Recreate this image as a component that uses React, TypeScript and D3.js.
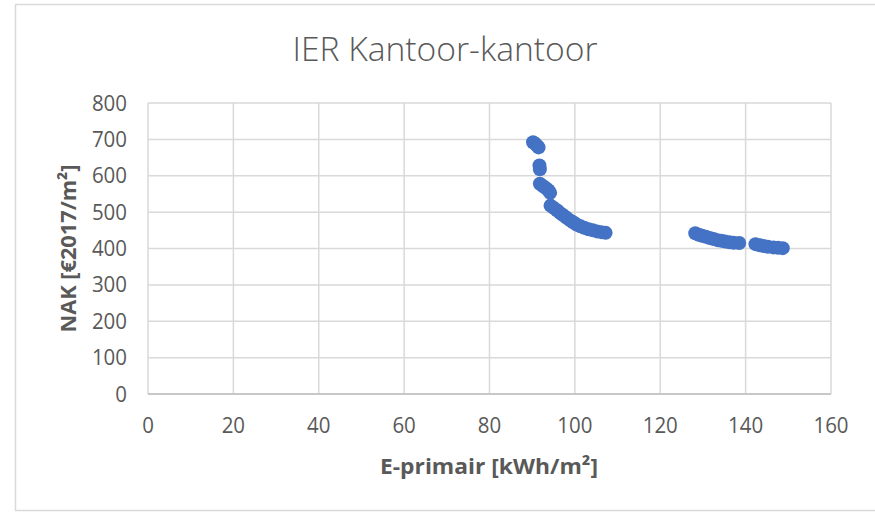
import React from "react";
import * as d3 from "d3";

const ePrimair: number[] = [
  90.2, 90.7, 91.2, 91.5,
  91.7, 91.8,
  91.8, 92.5, 93.2, 93.8, 94.2,
  94.3, 95.0, 95.8, 96.5, 97.2, 98.0, 98.8, 99.6, 100.4, 101.3, 102.2, 103.2, 104.2, 105.2, 106.2, 107.2,
  128.2, 129.0, 129.8, 130.7, 131.6, 132.5, 133.4, 134.3, 135.2, 136.2, 137.2, 138.5,
  142.3, 143.3, 144.2, 145.2, 146.5, 147.6, 148.7,
];
const nak: number[] = [
  692, 688, 682, 678,
  628, 618,
  578, 572, 566, 560, 553,
  518, 512, 505, 498, 492, 485, 478, 472, 466, 461, 457, 453, 450, 447, 445, 443,
  442, 438, 435, 432, 429, 426, 423, 421, 419, 417, 416, 415,
  412, 409, 407, 405, 403, 402, 401,
];
const xTicks: number[] = [0, 20, 40, 60, 80, 100, 120, 140, 160];
const yTicks: number[] = [0, 100, 200, 300, 400, 500, 600, 700, 800];

const title = "IER Kantoor-kantoor";
const xTitle = "E-primair [kWh/m²]";
const yTitle = "NAK [€2017/m²]";

export default function App() {
  const W = 875, H = 512;
  const left = 148, right = 831, top = 103, bottom = 394;
  const x = d3.scaleLinear().domain([0, 160]).range([left, right]);
  const y = d3.scaleLinear().domain([0, 800]).range([bottom, top]);
  const grid = "#d9d9d9";
  const txt = "#595959";
  const font = "'Open Sans', 'Noto Sans', sans-serif";
  return (
    <svg width={W} height={H} style={{ position: "absolute", left: 0, top: 0, background: "#fff" }}>
      <rect x={15.5} y={4.5} width={W} height={506} fill="#fff" stroke={grid} strokeWidth={1.5} />
      <text x={445} y={61} textAnchor="middle" fontFamily={font} fontSize={33} fontWeight={300} fill={txt} textLength={305} lengthAdjust="spacingAndGlyphs">{title}</text>
      {yTicks.map((t) => (
        <line key={"gy" + t} x1={left} x2={right} y1={y(t)} y2={y(t)} stroke={grid} strokeWidth={1.5} />
      ))}
      {xTicks.map((t) => (
        <line key={"gx" + t} x1={x(t)} x2={x(t)} y1={top} y2={bottom} stroke={grid} strokeWidth={1.5} />
      ))}
      <line x1={left} x2={right} y1={bottom} y2={bottom} stroke="#bfbfbf" strokeWidth={1.5} />
      {yTicks.map((t) => (
        <text key={"ly" + t} x={127} y={y(t)} dy="0.36em" textAnchor="end" fontFamily={font} fontSize={21} fill={txt} textLength={String(t).length * 11.7} lengthAdjust="spacingAndGlyphs">{t}</text>
      ))}
      {xTicks.map((t) => (
        <text key={"lx" + t} x={x(t)} y={433} textAnchor="middle" fontFamily={font} fontSize={21} fill={txt} textLength={String(t).length * 11.7} lengthAdjust="spacingAndGlyphs">{t}</text>
      ))}
      <text x={489} y={474} textAnchor="middle" fontFamily={font} fontSize={22} fontWeight={700} fill={txt} textLength={218} lengthAdjust="spacingAndGlyphs">{xTitle}</text>
      <text transform={`translate(76,${(top + bottom) / 2}) rotate(-90)`} textAnchor="middle" fontFamily={font} fontSize={22} fontWeight={700} fill={txt} textLength={168} lengthAdjust="spacingAndGlyphs">{yTitle}</text>
      {ePrimair.map((v, i) => (
        <circle key={"p" + i} cx={x(v)} cy={y(nak[i])} r={7} fill="#4472C4" />
      ))}
    </svg>
  );
}
